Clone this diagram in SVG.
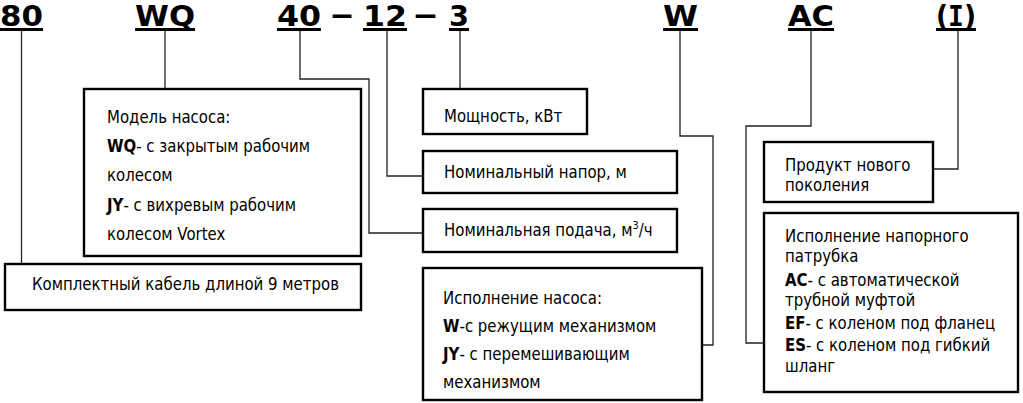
<svg xmlns="http://www.w3.org/2000/svg" width="1023" height="403" viewBox="0 0 1023 403">
<style>
.bg{fill:#ffffff}
.box{fill:#ffffff;stroke:#000000;stroke-width:2.4}
.con{fill:none;stroke:#222222;stroke-width:1.3}
.ul{stroke:#000000;stroke-width:3}
.title{font-family:"DejaVu Sans",Verdana,sans-serif;font-weight:bold;font-size:28px;fill:#000000}
.t{font-family:"DejaVu Sans",Verdana,sans-serif;font-size:17px;fill:#000000}
.b{font-weight:bold}
</style>
<rect class="bg" x="0" y="0" width="1023" height="403"/>

<g id="code">
  <text class="title" x="0" y="26" textLength="43" lengthAdjust="spacingAndGlyphs">80</text>
  <text class="title" x="135" y="26" textLength="60" lengthAdjust="spacingAndGlyphs">WQ</text>
  <text class="title" x="277" y="26" textLength="44" lengthAdjust="spacingAndGlyphs">40</text>
  <text class="title" x="330" y="24" textLength="24" lengthAdjust="spacingAndGlyphs">–</text>
  <text class="title" x="363" y="26" textLength="44" lengthAdjust="spacingAndGlyphs">12</text>
  <text class="title" x="413" y="24" textLength="25" lengthAdjust="spacingAndGlyphs">–</text>
  <text class="title" x="449" y="26" textLength="20" lengthAdjust="spacingAndGlyphs">3</text>
  <text class="title" x="663" y="26" textLength="35" lengthAdjust="spacingAndGlyphs">W</text>
  <text class="title" x="788" y="26" textLength="46" lengthAdjust="spacingAndGlyphs">AC</text>
  <text class="title" x="936" y="26" textLength="40" lengthAdjust="spacingAndGlyphs">(<tspan font-family="DejaVu Sans Mono, monospace">I</tspan>)</text>
  <line class="ul" x1="0" y1="29.5" x2="43" y2="29.5"/>
  <line class="ul" x1="135" y1="29.5" x2="195" y2="29.5"/>
  <line class="ul" x1="277" y1="29.5" x2="321" y2="29.5"/>
  <line class="ul" x1="363" y1="29.5" x2="407" y2="29.5"/>
  <line class="ul" x1="449" y1="29.5" x2="469" y2="29.5"/>
  <line class="ul" x1="663" y1="29.5" x2="698" y2="29.5"/>
  <line class="ul" x1="788" y1="29.5" x2="834" y2="29.5"/>
  <line class="ul" x1="936" y1="29.5" x2="976" y2="29.5"/>
</g>

<g id="connectors">
  <polyline class="con" points="21.5,31 21.5,263"/>
  <polyline class="con" points="165,31 165,88"/>
  <polyline class="con" points="300,31 300,79 369,79 369,233 422,233"/>
  <polyline class="con" points="387,31 387,176 422,176"/>
  <polyline class="con" points="460,31 460,88"/>
  <polyline class="con" points="680,31 680,136 713,136 713,345 702,345"/>
  <polyline class="con" points="811,31 811,126 746,126 746,343 763,343"/>
  <polyline class="con" points="958,31 958,169 934,169"/>
</g>

<g id="model">
  <rect class="box" x="84" y="89" width="277" height="167"/>
  <text class="t" transform="translate(107 0) scale(0.88 1)">
    <tspan x="0" y="123">Модель насоса:</tspan>
    <tspan x="0" y="152"><tspan class="b">WQ</tspan>- с закрытым рабочим</tspan>
    <tspan x="0" y="181">колесом</tspan>
    <tspan x="0" y="211"><tspan class="b">JY</tspan>- с вихревым рабочим</tspan>
    <tspan x="0" y="240">колесом Vortex</tspan>
  </text>
</g>

<g id="cable">
  <rect class="box" x="5" y="264" width="356" height="46"/>
  <text class="t" transform="translate(32 0) scale(0.88 1)" y="290">Комплектный кабель длиной 9 метров</text>
</g>

<g id="power">
  <rect class="box" x="423" y="89" width="164" height="45"/>
  <text class="t" transform="translate(444 0) scale(0.88 1)" y="122">Мощность, кВт</text>
</g>

<g id="head">
  <rect class="box" x="423" y="151" width="254" height="42"/>
  <text class="t" transform="translate(444 0) scale(0.88 1)" y="178">Номинальный напор, м</text>
</g>

<g id="flow">
  <rect class="box" x="423" y="209" width="254" height="43"/>
  <text class="t" transform="translate(444 0) scale(0.88 1)" y="236">Номинальная подача, м<tspan font-size="11" dy="-7">3</tspan><tspan dy="7">/ч</tspan></text>
</g>

<g id="execution">
  <rect class="box" x="423" y="268" width="279" height="132"/>
  <text class="t" transform="translate(443 0) scale(0.88 1)">
    <tspan x="0" y="304">Исполнение насоса:</tspan>
    <tspan x="0" y="332"><tspan class="b">W</tspan>-с режущим механизмом</tspan>
    <tspan x="0" y="360"><tspan class="b">JY</tspan>- с перемешивающим</tspan>
    <tspan x="0" y="388">механизмом</tspan>
  </text>
</g>

<g id="product">
  <rect class="box" x="764" y="142" width="169" height="60"/>
  <text class="t" transform="translate(785 0) scale(0.88 1)">
    <tspan x="0" y="171">Продукт нового</tspan>
    <tspan x="0" y="191">поколения</tspan>
  </text>
</g>

<g id="outlet">
  <rect class="box" x="764" y="213" width="254" height="179"/>
  <text class="t" transform="translate(785 0) scale(0.88 1)">
    <tspan x="0" y="242">Исполнение напорного</tspan>
    <tspan x="0" y="262">патрубка</tspan>
    <tspan x="0" y="286"><tspan class="b">AC</tspan>- с автоматической</tspan>
    <tspan x="0" y="306">трубной муфтой</tspan>
    <tspan x="0" y="329"><tspan class="b">EF</tspan>- с коленом под фланец</tspan>
    <tspan x="0" y="351"><tspan class="b">ES</tspan>- с коленом под гибкий</tspan>
    <tspan x="0" y="372">шланг</tspan>
  </text>
</g>
</svg>
